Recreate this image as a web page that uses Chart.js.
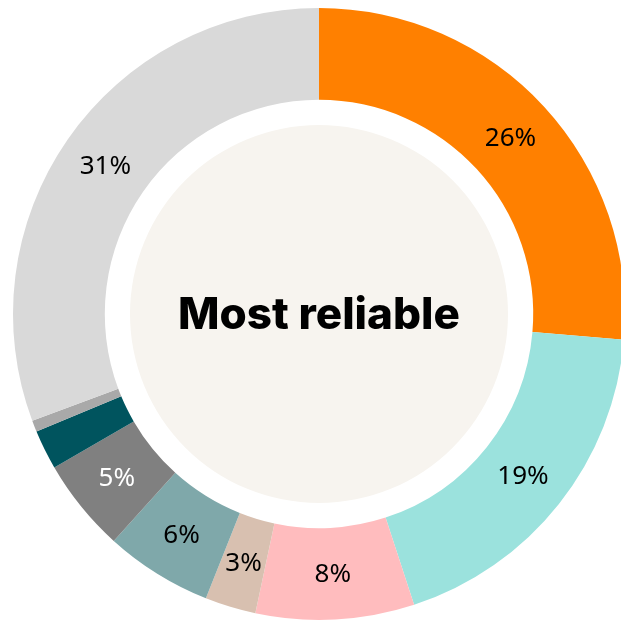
<!DOCTYPE html>
<html>
<head>
<meta charset="utf-8">
<script src="https://cdn.jsdelivr.net/npm/chart.js@4/dist/chart.umd.min.js"></script>
<style>
  html, body { margin: 0; padding: 0; background: #fff; overflow: hidden; }
  #wrap { position: absolute; left: 0; top: 0; width: 638px; height: 628px; }
</style>
</head>
<body>
<div id="wrap"><canvas id="donut" width="638" height="628"></canvas></div>
<script>
// slices, clockwise from 12 o'clock
const categories = ['A', 'B', 'C', 'D', 'E', 'F', 'G', 'H', 'I'];
const shares = [26.45, 18.7, 8.4, 2.7, 5.7, 4.95, 2.1, 0.6, 30.8];
const sliceColors = ['#ff8000', '#9be2dd', '#ffbcbe', '#d8c0b0', '#7fa8aa', '#808080', '#00545e', '#a9a9a9', '#d9d9d9'];
const labelColors = ['#000', '#000', '#000', '#000', '#000', '#fff', '#fff', '#000', '#000'];
const centerTitle = 'Most reliable';

const insideLabels = {
    id: 'insideLabels',
    beforeDatasetsDraw(chart) {
        // beige disc in the hole
        const arc = chart.getDatasetMeta(0).data[0];
        const ctx = chart.ctx;
        ctx.save();
        ctx.fillStyle = '#f7f4ef';
        ctx.beginPath();
        ctx.arc(arc.x, arc.y, 189, 0, Math.PI * 2);
        ctx.fill();
        ctx.restore();
    },
    afterDatasetsDraw(chart) {
        const ctx = chart.ctx;
        const meta = chart.getDatasetMeta(0);
        ctx.save();
        ctx.textAlign = 'center';
        ctx.textBaseline = 'middle';
        ctx.font = '400 26px "Noto Sans", Lato, sans-serif';
        meta.data.forEach((a, i) => {
            if (shares[i] < 2.5) return;
            const p = a.tooltipPosition();
            ctx.fillStyle = labelColors[i];
            ctx.fillText(Math.round(shares[i]) + '%', p.x, p.y + 1);
        });
        const c = meta.data[0];
        ctx.fillStyle = '#000';
        ctx.font = '800 44px Inter, "Noto Sans", sans-serif';
        ctx.fillText(centerTitle, c.x, c.y + 2);
        ctx.restore();
    }
};

new Chart(document.getElementById('donut').getContext('2d'), {
    type: 'doughnut',
    data: {
        labels: categories,
        datasets: [{
            data: shares,
            backgroundColor: sliceColors,
            borderWidth: 0
        }]
    },
    options: {
        responsive: false,
        animation: false,
        cutout: '70%',
        layout: { padding: 8 },
        plugins: {
            legend: { display: false },
            tooltip: { enabled: false }
        }
    },
    plugins: [insideLabels]
});
</script>
</body>
</html>
